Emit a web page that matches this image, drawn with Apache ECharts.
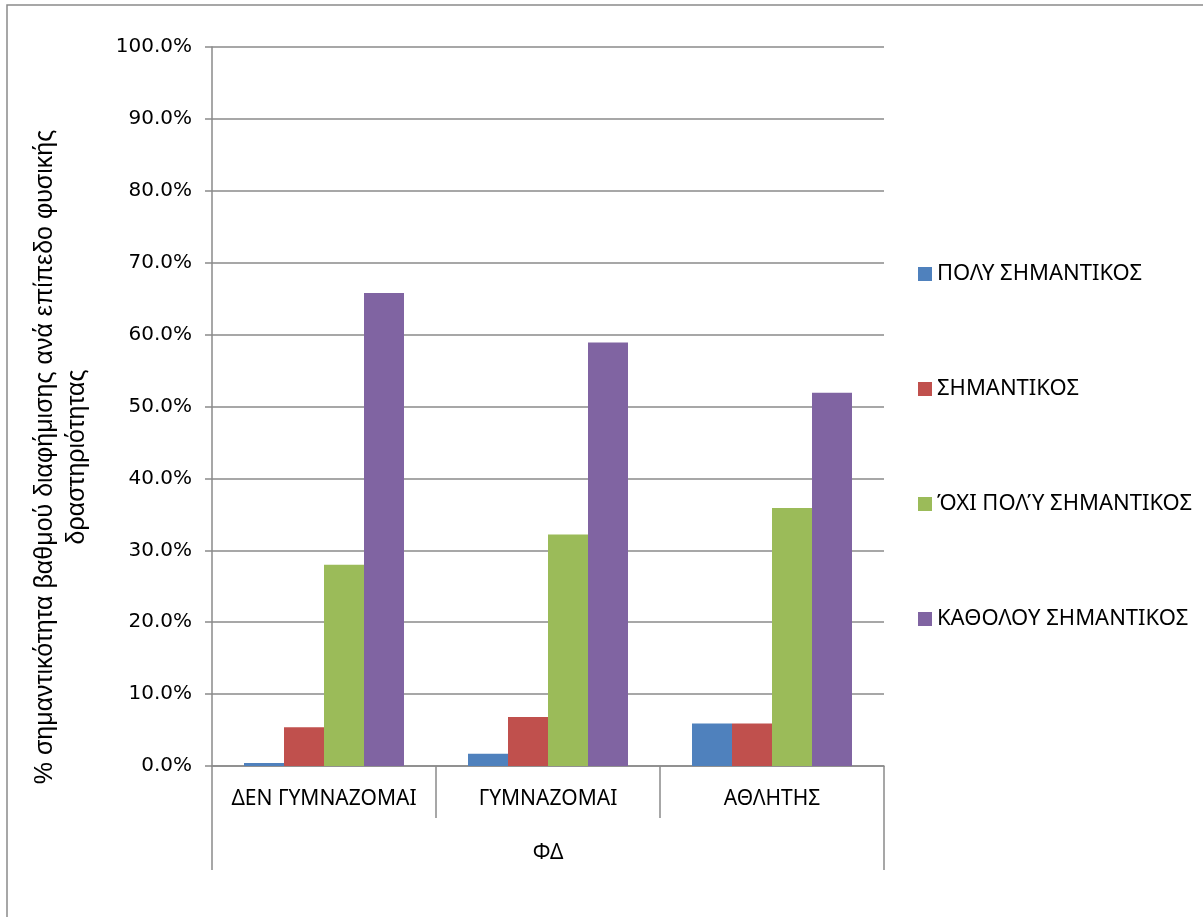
<!DOCTYPE html>
<html>
<head>
<meta charset="utf-8">
<script src="https://cdn.jsdelivr.net/npm/echarts@6/dist/echarts.min.js"></script>
<style>
  html, body { margin: 0; padding: 0; background: #fff; }
  #chart { width: 1203px; height: 917px; }
</style>
</head>
<body>
<div id="chart"></div>
<script>
    var categories = ['ΔΕΝ ΓΥΜΝΑΖΟΜΑΙ', 'ΓΥΜΝΑΖΟΜΑΙ', 'ΑΘΛΗΤΗΣ'];
    var groupName = ['ΦΔ'];
    var seriesNames = ['ΠΟΛΥ ΣΗΜΑΝΤΙΚΟΣ', 'ΣΗΜΑΝΤΙΚΟΣ', 'ΌΧΙ ΠΟΛΎ ΣΗΜΑΝΤΙΚΟΣ', 'ΚΑΘΟΛΟΥ ΣΗΜΑΝΤΙΚΟΣ'];
    var polySimantikos = [0.004, 0.017, 0.059];
    var simantikos = [0.054, 0.068, 0.059];
    var oxiPolySimantikos = [0.28, 0.322, 0.359];
    var katholouSimantikos = [0.658, 0.589, 0.519];
    var colors = ['#4F81BD', '#C0504D', '#9BBB59', '#8064A2'];

    var myChart = echarts.init(document.getElementById('chart'));
    var lineColor = '#8a8a8a';
    var values = [polySimantikos, simantikos, oxiPolySimantikos, katholouSimantikos];

    var series = [];
    for (var i = 0; i < seriesNames.length; i++) {
        series.push({
            name: seriesNames[i],
            type: 'bar',
            barWidth: 40,
            barGap: '0%',
            itemStyle: { color: colors[i] },
            data: values[i]
        });
    }

    var option = {
        animation: false,
        color: colors,
        grid: {
            left: 212,
            right: 319,
            top: 47,
            bottom: 151
        },
        legend: {
            orient: 'vertical',
            left: 913,
            top: 258,
            itemWidth: 14,
            itemHeight: 14,
            itemGap: 93,
            icon: 'rect',
            textStyle: { fontFamily: 'Noto Sans', fontSize: 22, color: '#000' },
            data: seriesNames
        },
        xAxis: [{
            type: 'category',
            data: categories,
            axisLine: { lineStyle: { color: lineColor, width: 1.5 } },
            axisTick: { show: true, length: 52, interval: 0, lineStyle: { color: lineColor, width: 1.5 } },
            axisLabel: { interval: 0, margin: 23, fontFamily: 'Noto Sans', fontSize: 21, color: '#000' }
        }, {
            type: 'category',
            data: groupName,
            position: 'bottom',
            offset: 52,
            axisLine: { show: false },
            axisTick: { show: true, length: 52, lineStyle: { color: lineColor, width: 1.5 } },
            axisLabel: { margin: 25, fontFamily: 'Noto Sans', fontSize: 21, color: '#000' }
        }],
        yAxis: {
            type: 'value',
            min: 0,
            max: 1,
            interval: 0.1,
            axisLine: { show: true, lineStyle: { color: lineColor, width: 1.5 } },
            axisTick: { show: true, length: 7, lineStyle: { color: lineColor, width: 1.5 } },
            splitLine: { lineStyle: { color: lineColor, width: 1.5 } },
            axisLabel: {
                margin: 20,
                fontFamily: 'DejaVu Sans',
                fontSize: 20,
                color: '#000',
                formatter: function (v) { return (v * 100).toFixed(1) + '%'; }
            }
        },
        graphic: [{
            type: 'rect',
            shape: { x: 7, y: 5, width: 1210, height: 930 },
            style: { fill: 'none', stroke: lineColor, lineWidth: 1.5 },
            silent: true
        }, {
            type: 'text',
            x: 61,
            y: 457,
            rotation: Math.PI / 2,
            style: {
                text: '% σημαντικότητα βαθμού διαφήμισης ανά επίπεδο φυσικής\nδραστηριότητας',
                fontFamily: 'Liberation Sans',
                fontSize: 25,
                lineHeight: 32,
                fill: '#000',
                align: 'center',
                verticalAlign: 'middle'
            }
        }],
        series: series
    };

    myChart.setOption(option);
</script>
</body>
</html>
